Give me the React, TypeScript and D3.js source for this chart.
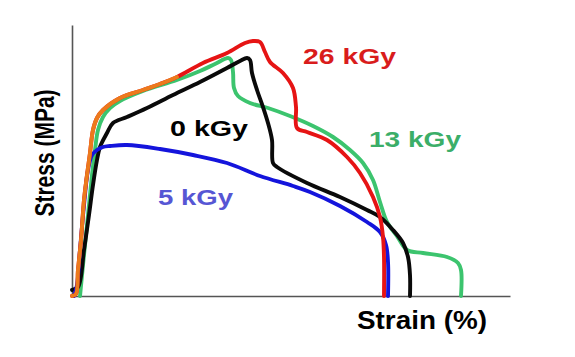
import React, { useEffect, useRef } from "react";
import * as d3 from "d3";

// Strain (arbitrary %) and stress (arbitrary MPa) readings for each curve
const strain0 = [0, 0.6, 1.2, 1.7, 2.1, 2.5, 2.8, 3.5, 4.1, 5.5, 7.5, 10.1, 12.8, 15.5, 16.8, 17.5, 17.8, 18.0, 18.5, 19.1, 19.6, 20.0, 20.1, 20.5, 23.5, 26.8, 29.5, 30.8, 32.1, 33.1, 33.6, 33.8, 33.8];
const stress0 = [0.6, 0.9, 4.6, 8.1, 11.1, 13.6, 14.9, 16.3, 17.3, 17.9, 18.8, 20.1, 21.4, 22.8, 23.5, 23.8, 23.6, 22.3, 20.6, 18.9, 17.3, 15.6, 13.3, 12.9, 11.3, 9.9, 8.6, 7.9, 6.6, 5.3, 3.9, 2.1, 0];

const strain13 = [0.8, 1.1, 1.4, 1.7, 2.0, 2.3, 2.6, 3.1, 3.8, 4.8, 7.1, 10.5, 12.8, 14.3, 15.6, 15.9, 16.1, 16.2, 16.6, 17.8, 19.6, 21.8, 24.1, 26.1, 27.8, 29.1, 30.1, 30.8, 31.5, 32.5, 33.5, 35.1, 37.5, 38.6, 38.9, 38.9];
const stress13 = [0, 3.1, 6.1, 9.1, 12.1, 14.6, 16.6, 17.9, 18.8, 19.5, 20.5, 21.6, 22.5, 23.2, 23.8, 23.6, 22.4, 20.8, 20.0, 19.3, 18.8, 18.0, 17.0, 15.9, 14.6, 13.3, 11.6, 9.4, 7.4, 6.0, 4.6, 4.3, 3.9, 3.3, 2.6, 0];

const strain5 = [0.2, 0.5, 0.8, 1.2, 1.6, 2.0, 2.5, 3.1, 3.8, 5.5, 8.8, 12.1, 15.5, 18.8, 22.1, 23.8, 26.8, 29.5, 30.8, 31.4, 31.6, 31.6];
const stress5 = [0, 1.1, 4.6, 9.1, 12.6, 14.1, 14.6, 14.9, 15.0, 15.1, 14.7, 14.1, 13.3, 12.0, 11.0, 10.4, 9.0, 7.4, 6.4, 5.1, 3.4, 0];

const strainEarly = [0, 0.4, 0.6, 0.9, 1.2, 1.5, 1.8, 2.1, 2.5, 3.1, 4.8, 7.1, 8.8, 10.5];
const stressEarly = [0, 0.2, 2.6, 5.6, 9.6, 12.1, 14.3, 16.6, 17.8, 18.6, 19.8, 20.6, 21.2, 21.9];

const strain26 = [...strainEarly, 13.1, 15.5, 17.3, 18.1, 18.8, 19.3, 19.8, 21.1, 22.1, 22.4, 22.5, 23.5, 25.5, 27.5, 28.8, 30.1, 30.8, 31.1, 31.2, 31.2];
const stress26 = [...stressEarly, 23.3, 24.3, 25.3, 25.5, 25.4, 24.4, 23.4, 22.3, 20.8, 18.9, 16.8, 16.4, 15.6, 13.9, 12.3, 9.9, 7.9, 5.9, 3.9, 0];

const seriesNames = ["13 kGy", "0 kGy", "5 kGy", "26 kGy", "early"];
const labelTexts = ["26 kGy", "13 kGy", "0 kGy", "5 kGy"];
const xLabel = "Strain (%)";
const yLabel = "Stress (MPa)";

const W = 575, H = 357;
const M = { left: 72, right: 65, top: 25, bottom: 61 };

const zip = (a: number[], b: number[]) => a.map((v, i) => [v, b[i]] as [number, number]);

export default function App() {
  const gx = useRef<SVGGElement>(null);
  const gy = useRef<SVGGElement>(null);
  const x = d3.scaleLinear().domain([0, 43.8]).range([M.left, W - M.right]);
  const y = d3.scaleLinear().domain([0, 27.1]).range([H - M.bottom, M.top]);

  useEffect(() => {
    if (gx.current) {
      const s = d3.select(gx.current);
      s.call(d3.axisBottom(x).ticks(0).tickSize(0).tickSizeOuter(0) as any);
      s.select(".domain").attr("stroke", "#555").attr("stroke-width", 1.6);
    }
    if (gy.current) {
      const s = d3.select(gy.current);
      s.call(d3.axisLeft(y).ticks(0).tickSize(0).tickSizeOuter(0) as any);
      s.select(".domain").attr("stroke", "#555").attr("stroke-width", 1.6);
    }
  }, []);

  const line = d3.line<[number, number]>().x(d => x(d[0])).y(d => y(d[1])).curve(d3.curveCatmullRom.alpha(0.5));

  const series = [
    { name: seriesNames[0], pts: zip(strain13, stress13), color: "#3cc46e" },
    { name: seriesNames[1], pts: zip(strain0, stress0), color: "#0a0a0a" },
    { name: seriesNames[2], pts: zip(strain5, stress5), color: "#1414dc" },
    { name: seriesNames[3], pts: zip(strain26, stress26), color: "#e61414" },
    { name: seriesNames[4], pts: zip(strainEarly, stressEarly), color: "#ec7a1c" },
  ];

  const labels = [
    { t: labelTexts[0], x: 303, y: 64, w: 93, c: "#d91c1c" },
    { t: labelTexts[1], x: 369, y: 147, w: 92, c: "#3bae68" },
    { t: labelTexts[2], x: 170, y: 136, w: 78, c: "#000" },
    { t: labelTexts[3], x: 158, y: 205, w: 75, c: "#5656d4" },
  ];

  return (
    <svg width={W} height={H} style={{ position: "absolute", left: 0, top: 0, background: "#fff" }}
      fontFamily="'Liberation Sans', Arial, sans-serif">
      <g ref={gx} transform={`translate(0,${H - M.bottom})`} />
      <g ref={gy} transform={`translate(${M.left},0)`} />
      {series.map(s => (
        <path key={s.name} d={line(s.pts) || ""} fill="none" stroke={s.color} strokeWidth={3.9}
          strokeLinejoin="round" strokeLinecap="round" />
      ))}
      {labels.map(l => (
        <text key={l.t} x={l.x} y={l.y} fill={l.c} fontSize={22} fontWeight="bold"
          textLength={l.w} lengthAdjust="spacingAndGlyphs">{l.t}</text>
      ))}
      <text x={357} y={329} fontSize={25} fontWeight="bold" fill="#000" textLength={130}
        lengthAdjust="spacingAndGlyphs">{xLabel}</text>
      <g transform="translate(54,153) scale(1.3,1) rotate(-90)">
        <text x={0} y={0} fontSize={21} fontWeight="bold" fill="#000" textAnchor="middle">{yLabel}</text>
      </g>
    </svg>
  );
}
